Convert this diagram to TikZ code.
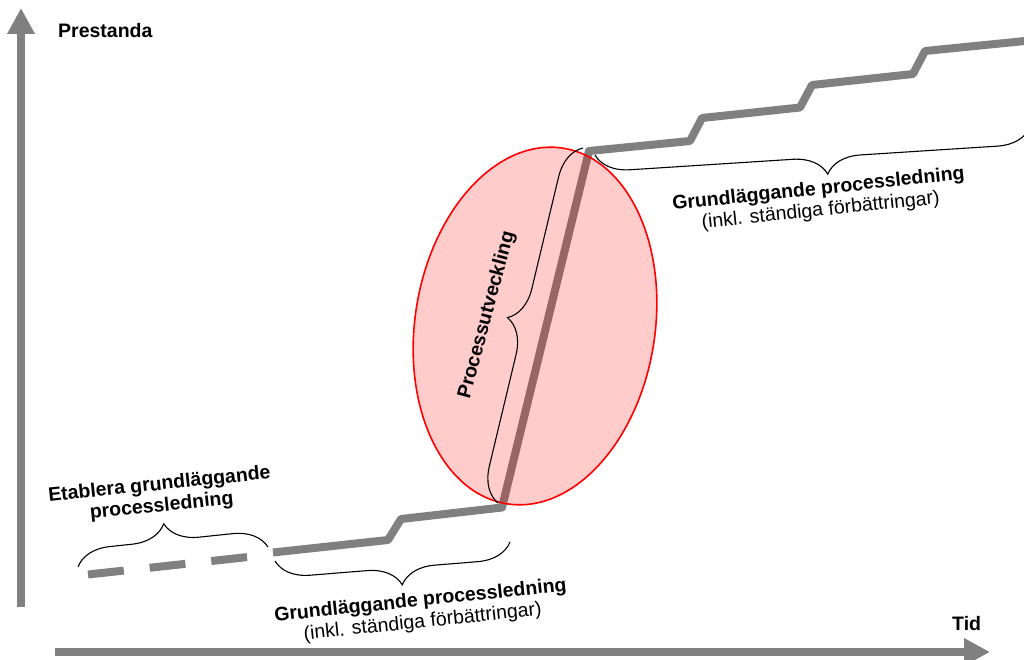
\documentclass[tikz,border=0pt]{standalone}
\usepackage{fontspec}
\setmainfont{Liberation Sans}
\usetikzlibrary{arrows.meta,decorations.pathreplacing}
\definecolor{axisgray}{HTML}{808080}
\begin{document}
\begin{tikzpicture}[x=1pt,y=-1pt,
  axis/.style={draw=axisgray, line width=8.5pt, -{Triangle[width=26pt,length=26pt]}},
  track/.style={draw=axisgray, line width=8pt, line join=round},
  bracemark/.style={draw=black, line width=1.1pt, decorate,
    decoration={brace, amplitude=34pt, aspect=#1}},
  bracemark/.default=0.5,
  head/.style={font=\fontsize{19.5}{21.5}\selectfont\bfseries, inner sep=0pt},
  label/.style={font=\fontsize{19.5}{21.5}\selectfont, inner sep=0pt, align=center, rotate=6},
]
\useasboundingbox (0,0) rectangle (1024,660);
\clip (0,0) rectangle (1024,660);

% axes
\coordinate (yfoot) at (21,607);
\coordinate (ytip)  at (21,8);
\coordinate (xfoot) at (55,652);
\coordinate (xtip)  at (990,652);
\draw[axis] (yfoot) -- (ytip);
\draw[axis] (xfoot) -- (xtip);
\node[head, anchor=base west] (yname) at (58,38) {Prestanda};
\node[head, anchor=base west] (xname) at (952,630) {Tid};

% performance curve
\coordinate (d0) at (88,574.5);
\coordinate (d1) at (248,557);
\coordinate (s0) at (273,552.5);
\coordinate (s1) at (388,540);
\coordinate (s2) at (401,519);
\coordinate (s3) at (502,507.5);
\coordinate (u0) at (589,151);
\coordinate (u1) at (690,141);
\coordinate (u2) at (702,118);
\coordinate (u3) at (800,107.5);
\coordinate (u4) at (812,85);
\coordinate (u5) at (913,74);
\coordinate (u6) at (925,51);
\coordinate (u7) at (1030,40.5);
\draw[axisgray, line width=8pt, dash pattern=on 36pt off 26pt] (d0) -- (d1);
\draw[track] (s0) -- (s1) -- (s2) -- (s3) -- (u0) -- (u1) -- (u2) -- (u3) -- (u4) -- (u5) -- (u6) -- (u7);

% development phase
\draw[red, line width=1.6pt, fill=red, fill opacity=0.2, rotate around={-9:(535,326)}]
  (535,326) ellipse [x radius=120pt, y radius=180pt];

% braces
\coordinate (b1a) at (78,567);
\coordinate (b1b) at (268,547);
\coordinate (b2a) at (510,542);
\coordinate (b2b) at (275,561);
\coordinate (b3a) at (498,503);
\coordinate (b3b) at (583,148);
\coordinate (b4a) at (1030,127);
\coordinate (b4b) at (595,155);
\draw[bracemark=0.47] (b1a) -- (b1b);
\draw[bracemark=0.47] (b2a) -- (b2b);
\draw[bracemark=0.5] (b3a) -- (b3b);
\draw[bracemark=0.47] (b4a) -- (b4b);

% labels
\node[label] (est) at (160.6,495.8) {\bfseries Etablera grundläggande\\\bfseries processledning};
\node[label] (low) at (421.6,611.8) {\bfseries Grundläggande processledning\\(inkl. ständiga förbättringar)};
\node[label] (up) at (819.6,200.3) {\bfseries Grundläggande processledning\\(inkl. ständiga förbättringar)};
\node[head, rotate=75] (dev) at (487,315) {Processutveckling};
\end{tikzpicture}
\end{document}
